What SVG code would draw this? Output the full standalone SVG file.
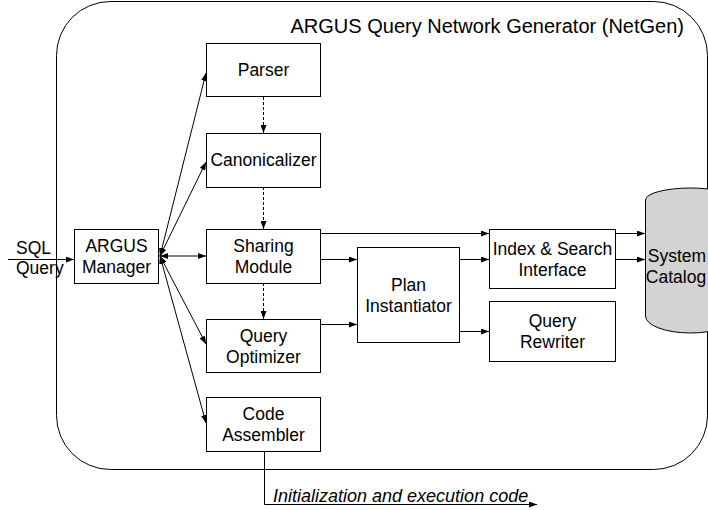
<svg xmlns="http://www.w3.org/2000/svg" width="708" height="510" viewBox="0 0 708 510">
<style>
.box{fill:#fff;stroke:#000;stroke-width:1}
.lbl{font-family:"Liberation Sans",Arial,sans-serif;font-size:17.5px;fill:#000;text-anchor:middle}
.c{fill:none;stroke:#000;stroke-width:1}
.d{stroke-dasharray:3,2}
.ae{marker-end:url(#ah)}
.ab{marker-start:url(#ah);marker-end:url(#ah)}
</style>
<defs>
<marker id="ah" viewBox="0 0 8 6" refX="8" refY="3" markerWidth="8" markerHeight="6" orient="auto-start-reverse" markerUnits="userSpaceOnUse"><path d="M0,0 L8,3 L0,6 z" fill="#000"/></marker>
</defs>
<rect width="708" height="510" fill="#fff"/>
<g id="netgen">
<rect x="56.5" y="1.5" width="651" height="468" rx="54" ry="54" fill="none" stroke="#000" stroke-width="1"/>
<text x="684" y="33" style="font-family:'Liberation Sans',Arial,sans-serif;font-size:20px;text-anchor:end">ARGUS Query Network Generator (NetGen)</text>
</g>
<g id="connectors">
<path class="c ae" d="M8,259.5 L74,259.5"/>
<path class="c ab" d="M160,256 L206,73"/>
<path class="c ab" d="M160,256 L206,162"/>
<path class="c ab" d="M160,256 L206,256"/>
<path class="c ab" d="M160,256 L206,344"/>
<path class="c ab" d="M160,256 L206,423"/>
<path class="c d ae" d="M263.5,97 L263.5,133"/>
<path class="c d ae" d="M263.5,187 L263.5,229"/>
<path class="c d ae" d="M263.5,283 L263.5,319"/>
<path class="c ae" d="M320,233.5 L489,233.5"/>
<path class="c ae" d="M320,259.5 L357,259.5"/>
<path class="c ae" d="M459,259.5 L489,259.5"/>
<path class="c ae" d="M320,324.5 L357,324.5"/>
<path class="c ae" d="M459,331.5 L489,331.5"/>
<path class="c ae" d="M615,233.5 L645,233.5"/>
<path class="c ae" d="M615,259.5 L645,259.5"/>
<path class="c ae" d="M264.5,451 L264.5,504.5 L537,504.5"/>
<text x="273" y="502" style="font-family:'Liberation Sans',Arial,sans-serif;font-size:18px;font-style:italic">Initialization and execution code</text>
<text x="16" y="254" style="font-family:'Liberation Sans',Arial,sans-serif;font-size:17.5px">SQL</text>
<text x="16" y="274" style="font-family:'Liberation Sans',Arial,sans-serif;font-size:17.5px">Query</text>
</g>
<g id="manager">
<rect class="box" x="74.5" y="229.5" width="84" height="54"/>
<text class="lbl" x="116.5" y="252">ARGUS</text>
<text class="lbl" x="116.5" y="273">Manager</text>
</g>
<g id="parser">
<rect class="box" x="206.5" y="43.5" width="114" height="53"/>
<text class="lbl" x="263.5" y="76">Parser</text>
</g>
<g id="canonicalizer">
<rect class="box" x="206.5" y="133.5" width="114" height="54"/>
<text class="lbl" x="263.5" y="166">Canonicalizer</text>
</g>
<g id="sharing">
<rect class="box" x="206.5" y="229.5" width="114" height="54"/>
<text class="lbl" x="263.5" y="252">Sharing</text>
<text class="lbl" x="263.5" y="273">Module</text>
</g>
<g id="optimizer">
<rect class="box" x="206.5" y="319.5" width="114" height="53"/>
<text class="lbl" x="263.5" y="341.5">Query</text>
<text class="lbl" x="263.5" y="362.5">Optimizer</text>
</g>
<g id="assembler">
<rect class="box" x="206.5" y="397.5" width="114" height="54"/>
<text class="lbl" x="263.5" y="420">Code</text>
<text class="lbl" x="263.5" y="441">Assembler</text>
</g>
<g id="plan">
<rect class="box" x="357.5" y="247.5" width="102" height="95"/>
<text class="lbl" x="408.5" y="291">Plan</text>
<text class="lbl" x="408.5" y="312">Instantiator</text>
</g>
<g id="index">
<rect class="box" x="489.5" y="229.5" width="126" height="59"/>
<text class="lbl" x="552.5" y="254.5">Index &amp; Search</text>
<text class="lbl" x="552.5" y="275.5">Interface</text>
</g>
<g id="rewriter">
<rect class="box" x="489.5" y="301.5" width="126" height="60"/>
<text class="lbl" x="552.5" y="327">Query</text>
<text class="lbl" x="552.5" y="348">Rewriter</text>
</g>
<g id="catalog">
<path d="M645.5,200 A45,12 0 0 1 735.5,200 L735.5,316 A45,17 0 0 1 645.5,316 Z" fill="#d3d3d3" stroke="#000" stroke-width="1"/>
<text class="lbl" x="677" y="262">System</text>
<text class="lbl" x="676" y="283">Catalog</text>
</g>
</svg>
